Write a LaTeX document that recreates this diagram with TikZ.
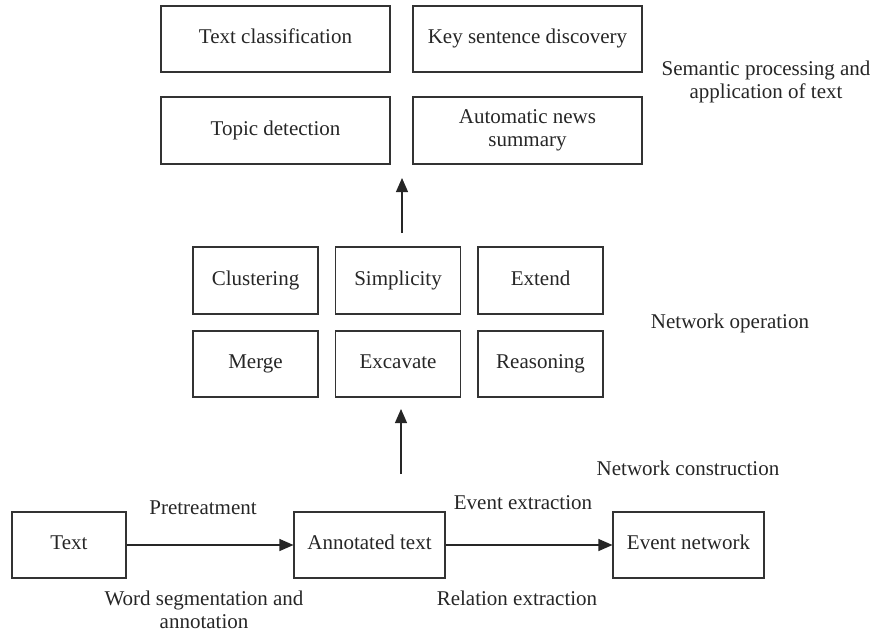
\documentclass[tikz,border=0pt]{standalone}
\usepackage{fontspec}
\setmainfont{Liberation Serif}
\usetikzlibrary{arrows.meta}
\begin{document}
\begin{tikzpicture}[x=1pt,y=-1pt,
  lbl/.style={font=\fontsize{21}{23.5}\selectfont, text=black!85, inner sep=0pt, align=center},
  boxn/.style={lbl, draw=black!80, line width=1.1pt, minimum height=66pt},
  one/.style={text height=14pt, text depth=4.5pt},
  arr/.style={draw=black!85, line width=1.1pt, -{Triangle[length=14pt,width=12pt]}}]
\useasboundingbox (0,0) rectangle (875,635);
% top group
\node[boxn, one, minimum width=229pt] (tc) at (275.5,39) {Text classification};
\node[boxn, one, minimum width=229pt] (ksd) at (527.5,39) {Key sentence discovery};
\node[boxn, one, minimum width=229pt, minimum height=67pt] (td) at (275.5,130.5) {Topic detection};
\node[boxn, minimum width=229pt, minimum height=67pt] (ans) at (527.5,130.5) {Automatic news\\summary};
\node[lbl] (sem) at (766,82) {Semantic processing and\\application of text};
% middle group
\node[boxn, one, minimum width=125pt, minimum height=67pt] (clu) at (255.5,280.5) {Clustering};
\node[boxn, one, minimum width=125pt, minimum height=67pt] (sim) at (398,280.5) {Simplicity};
\node[boxn, one, minimum width=125pt, minimum height=67pt] (ext) at (540.5,280.5) {Extend};
\node[boxn, one, minimum width=125pt] (mer) at (255.5,364) {Merge};
\node[boxn, one, minimum width=125pt] (exc) at (398,364) {Excavate};
\node[boxn, one, minimum width=125pt] (rea) at (540.5,364) {Reasoning};
\node[lbl] (netop) at (730,323) {Network operation};
% bottom group
\node[boxn, one, minimum width=114pt] (txt) at (69,545) {Text};
\node[boxn, one, minimum width=151pt] (ann) at (369.5,545) {Annotated text};
\node[boxn, one, minimum width=151pt] (evn) at (688.5,545) {Event network};
\node[lbl] (netc) at (688,468) {Network construction};
\node[lbl] (pre) at (203,508) {Pretreatment};
\node[lbl] (wsa) at (204,610) {Word segmentation and\\annotation};
\node[lbl] (evx) at (523,503) {Event extraction};
\node[lbl] (rex) at (517,598) {Relation extraction};
% arrows
\coordinate (u1s) at (402,233);
\coordinate (u1e) at (402,178);
\coordinate (u2s) at (401,474);
\coordinate (u2e) at (401,409);
\draw[arr] (u1s) -- (u1e);
\draw[arr] (u2s) -- (u2e);
\draw[arr] (txt.east) -- (ann.west);
\draw[arr] (ann.east) -- (evn.west);
\end{tikzpicture}
\end{document}
